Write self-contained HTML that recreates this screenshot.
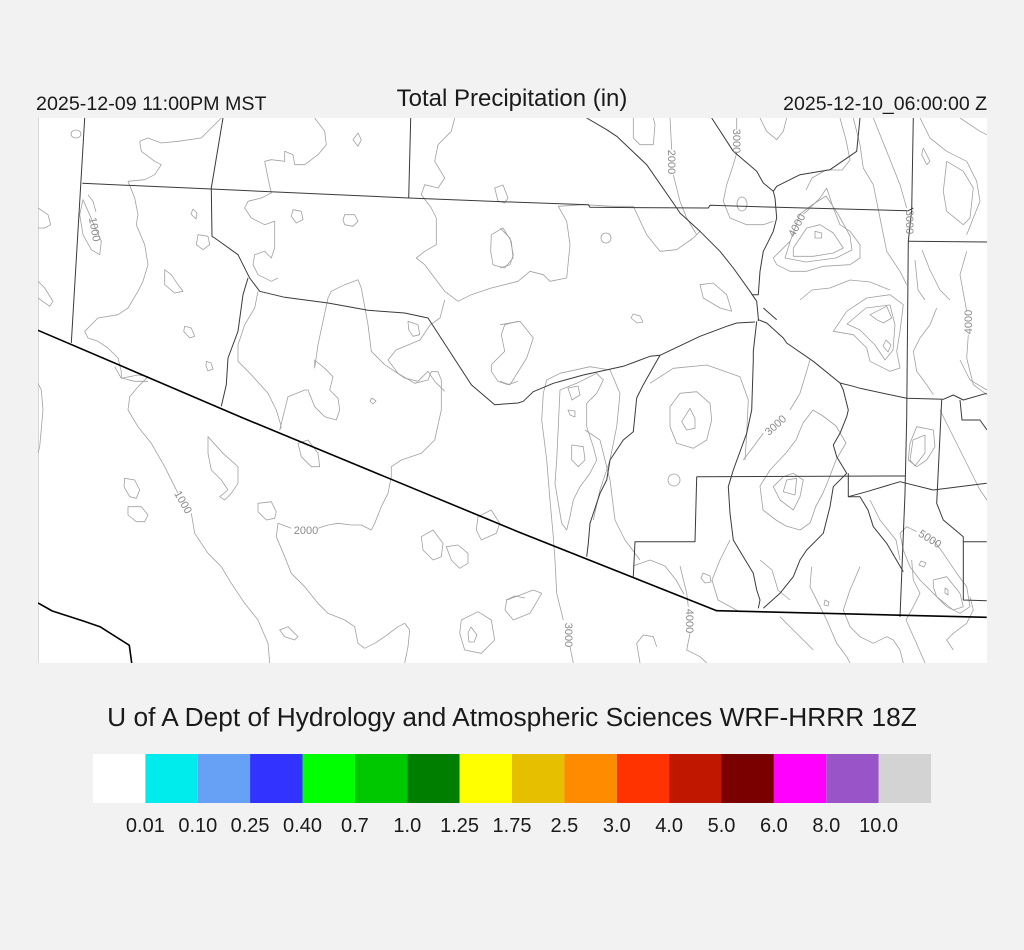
<!DOCTYPE html>
<html><head><meta charset="utf-8"><style>
html,body{margin:0;padding:0;background:#f2f2f2;}
svg{display:block;}
text{font-family:"Liberation Sans",Arial,sans-serif;}
</style></head><body>
<svg width="1024" height="950" viewBox="0 0 1024 950" xmlns="http://www.w3.org/2000/svg">
<rect x="0" y="0" width="1024" height="950" fill="#f2f2f2"/>
<defs><clipPath id="mc"><rect x="38" y="118" width="949" height="545"/></clipPath></defs>
<rect x="38" y="118" width="949" height="545" fill="#ffffff"/>
<line x1="38.5" y1="118" x2="38.5" y2="663" stroke="#d8d8d8" stroke-width="1"/>

<g clip-path="url(#mc)" fill="none" stroke="#a0a0a0" stroke-width="0.8" stroke-linejoin="round">
<ellipse cx="76" cy="134" rx="5" ry="4"/>
<path d="M139.7,141.3 L148,138 L161.3,143 L178,141.3 L201.3,138 L211.3,128 L221.3,118"/>
<path d="M139.7,141.3 L141.3,151.3 L154.7,161.3 L161.3,164.7 L154.7,174.7 L144.7,179.7 L128,181.3 L134.7,198 L138,214.7 L136.3,224.7 L144.7,244.7 L148,264.7 L143,281.3 L138,291.3 L128,308 L118,314.7 L98,318 L84.7,331.3 L88,338 L98,341.3 L108,348 L118,358 L121.3,371.3 L121.3,378 L134.7,381.3 L148,381.3"/>
<path d="M114.7,366.7 L121.3,378.3 L138,375 L148,376.7 L138,386.7 L129.7,396.7 L128,410 L138,426.7 L151.3,443.3 L164.7,466.7 L174.7,486.7 L178,493.3 M191.3,513.3 L194.7,533.3 L208,553.3 L221.3,566.7 L231.3,583.3 L244.7,603.3 L258,620 L268,643.3 L269.7,663"/>
<path d="M314.7,118 L324.7,131.3 L326.3,144.7 L318,154.7 L304.7,164.7 L294.7,164.7 L293,154.7 L284.7,151.3 L284.7,161.3 L271.3,159.7 L264.7,161.3 L268,178 L271.3,193 L261.3,198 L248,201.3 L244.7,208 L251.3,218 L264.7,224.7 L274.7,221.3 L274.7,248 L271.3,258 L264.7,251.3 L254.7,254.7 L253,264.7 L258,274.7 L271.3,281.3 L278,278"/>
<path d="M258,291.3 L254.7,308 L244.7,324.7 L238,344.7 L238,361.3 L251.3,374.7 L268,393.3 L276.3,410 L281.3,426.7 L279.7,430 L288,396.7 L304.7,390 L308,390 L314.7,406.7 L324.7,416.7 L336.3,420 L339.7,410 L338,398.3 L329.7,390 L333,376.7 L324.7,368.3 L314.7,360 L314.7,368 L318,344.7 L328,298 L331.3,291.3 L344.7,284.7 L358,279.7 L361.3,288 L368,324.7 L371.3,351.3 L384.7,364.7 L404.7,378 L418,381.3 L428,371.3 L434.7,381.3 L444.7,391.3"/>
<path d="M454.7,118 L451.3,131.3 L438,144.7 L434.7,161.3 L444.7,178 L438,188 L424.7,184.7 L421.3,194.7 L431.3,208 L436.3,218 L436.3,244.7 L424.7,251.3 L416.3,258 L424.7,264.7 L434.7,278 L444.7,291.3 L458,301.3 L471.3,294.7 L491.3,288 L518,281.3 L530,271.3 L543.3,274.7 L550,281.3 L566.7,278 L570,244.7 L566.7,221.3 L558.3,206.3 L583.3,204.7 L613.3,206.3 L633.3,206.3 L646.7,234.7 L660,251.3 L676.7,249.7 L693.3,238 L700,231.3"/>
<path d="M670,118 L671.7,149.7 M673.3,174.7 L680,201.3 L686.7,218 L696.7,234.7"/>
<path d="M736.7,118 L736.7,129.7 M736.7,153 L733.3,164.7 L726.7,184.7 L723.3,201.3 L730,218 L746.7,224.7 L763.3,224.7 L773.3,221.3"/>
<path d="M826.7,188 L820,198 L806.7,211.3 L803.3,214 M790,241.3 L780,251.3 L773.3,258 L776.7,264.7 L790,271.3 L806.7,271.3 L823.3,266.3 L850,264.7 L860,258 L860,244.7 L850,231.3 L840,224.7 L833.3,208 L826.7,188"/>
<path d="M815,231.3 L821.7,233 L821.7,238 L815,238 Z"/>
<path d="M806.7,228 L820,224.7 L833.3,233 L843.3,248 L833.3,253 L813.3,256.3 L793.3,256.3 L793.3,248 Z"/>
<path d="M800,214 L812,205 L826,196 L838,214 L850,236 L852,250 L836,258 L806,262 L785,258 L790,242 Z"/>
<path d="M853.3,118 L860,144.7 L863.3,168 L873.3,184.7 L880,218 L886.7,251.3 L900,271.3 L906.7,284.7"/>
<path d="M873.3,118 L886.7,151.3 L900,184.7 L906.7,208"/>
<path d="M840,118 L846,140 L850,160 L842,170 L826,170 L812,178 L806,190"/>
<path d="M760,118 L766.7,131.3 L776.7,139.7 L783.3,131.3 L786.7,118"/>
<path d="M833.3,331.3 L846.7,311.3 L866.7,298 L890,294.7 L903.3,304.7 L900,331.3 L896.7,351.3 L900,368 L890,371.3 L870,361.3 L866.7,348 L853.3,334.7 Z"/>
<path d="M847,324 L866,308 L890,305 L895,325 L893,350 L885,360 L875,345 L860,330 Z"/>
<path d="M870,314.7 L886.7,306.3 L891.7,318 L883.3,323 L876.7,319.7 Z"/>
<path d="M886,340 L891,345 L888,352 L883,346 Z"/>
<path d="M800,300 L812,290 L830,288 L850,280 L870,282 L890,290"/>
<path d="M920,118 L930,138 L946.7,151.3 L966.7,161.3 L976.7,181.3 L980,201.3 L973.3,218 L966.7,234.7"/>
<path d="M960,118 L980,131.3 L987,134.7"/>
<path d="M923.3,148 L930,161.3 L926.7,164.7 L921.7,154.7 Z"/>
<path d="M946.7,161.3 L963.3,171.3 L973.3,188 L970,218 L963.3,224.7 L946.7,211.3 L943.3,191.3 Z"/>
<path d="M966.7,251.3 L960,274.7 L966.7,311.3 M968.3,334.7 L966.7,358 L973.3,384.7 L987,394.7"/>
<path d="M936.7,308 L930,324.7 L920,338 L913.3,351.3 L916.7,371.3 L926.7,384.7 L933.3,394.7"/>
<path d="M922,250 L930,270 L940,290 L950,300 M915,260 L918,290 L925,300"/>
<path d="M606,238 m-5,0 a5,5 0 1,0 10,0 a5,5 0 1,0 -10,0"/>
<path d="M500,228 L510,238 L513.3,254.7 L510,264.7 L500,268"/>
<path d="M633.3,118 L633.3,138 L640,144.7 L653.3,144.7 L655,124.7 L653.3,118"/>
<path d="M700,284.7 L713.3,283 L726.7,294.7 L731.7,311.3 L720,308 L703.3,298 Z"/>
<path d="M633,314 L640,316 L643,322 L637,323 L631,318 Z"/>
<ellipse cx="742" cy="204" rx="5" ry="7"/>
<path d="M500,324.7 L520,321.3 L533.3,338 L526.7,358 L510,384.7 L500,381.3"/>
<path d="M543.3,393.3 L541.7,420 L546.7,460 L550,500 L553.3,536.7 L555,560 L556.7,593.3 L563.3,620 M570,646.7 L573.3,663"/>
<path d="M543.3,393.3 L546.7,380 L560,373.3 L590,366.7 L610,370 L620,393.3 L616.7,426.7 L610,460 L600,490 L593.3,520"/>
<path d="M560,390 L576.7,383.3 L596.7,373.3 L603.3,380 L596.7,393.3 L586.7,403.3 L586.7,426.7 L593.3,446.7 L596.7,460 L590,473.3 L580,486.7 L573.3,500 L570,516.7 L566.7,530 L561.7,523.3 L558.3,503.3 L555,483.3 L556.7,460 L558.3,426.7 Z"/>
<path d="M571.7,445 L583.3,446.7 L585,460 L578.3,466.7 L571.7,460 Z"/>
<path d="M568,410 L575,411 L575,417 L570,415 Z"/>
<path d="M568,388 L578,386 L580,395 L572,400 Z"/>
<path d="M650,383.3 L673.3,368.3 L706.7,365 L740,376.7 L748.3,400 L746.7,433.3 L745,460"/>
<path d="M670,406.7 L680,393.3 L696.7,391.7 L710,403.3 L711.7,420 L706.7,440 L693.3,448.3 L676.7,443.3 L670,426.7 Z"/>
<path d="M690,408.3 L695,418.3 L695,428.3 L686.7,430 L681.7,421.7 Z"/>
<circle cx="674" cy="480" r="6"/>
<path d="M810,360 L800,393.3 L790,410 M763.3,433.3 L753.3,446.7 L743.3,460"/>
<path d="M793.3,473.3 L803.3,480 L800,496.7 L793.3,510 L780,500 L773.3,486.7 L783.3,476.7 Z"/>
<path d="M786.7,480 L796.7,478.3 L795,495 L783.3,491.7 Z"/>
<path d="M760,486 L763,510 L776,520 L786,526 L800,530 L810,523 L816,506 L823,493 L830,476 L836,460 L846,443 L836,426 L823,416 L813,410 L803,423 L796,440 L786,453 L770,470 Z"/>
<path d="M916.7,531.7 L906.7,526.7 L900,533.3 L903.3,550 L910,566.7 L920,580 L933.3,593.3 L946.7,606.7 L960,613.3 L970,606.7 L966.7,586.7 L956.7,573.3 L943.3,553.3 L933.3,540"/>
<path d="M921,561 L926,563 L924,567 L919,565 Z"/>
<path d="M933.3,580 L946.7,576.7 L960,593.3 L963.3,606.7 L953.3,610 L936.7,596.7 L933.3,586.7 Z"/>
<path d="M945,588 L948,590 L948,595 L945,593 Z"/>
<path d="M916.7,426.7 L933.3,430 L935,446.7 L926.7,460 L916.7,466.7 L908.3,460 L910,443.3 Z"/>
<path d="M913,440 L925,435 L925,453 L915,466 L910,460 Z"/>
<path d="M680,566 L686.7,593.3 L688.3,606.7 M690,633.3 L686.7,650 L700,656.7 L706.7,663"/>
<path d="M506.7,600 L533.3,590 L541.7,593.3 L530,613.3 L513.3,620 L505,610 Z"/>
<path d="M703,573 L710,576 L711,582 L705,583 L701,578 Z"/>
<path d="M825,600 L829,602 L828,606 L824,605 Z"/>
<path d="M38,208 L48,214.7 L50.7,224.7 L44.7,228 L38,228"/>
<path d="M38,281.3 L44.7,288 L53,301.3 L49.7,306.3 L38,298"/>
<path d="M38,383.3 L41.3,390 L43,410 L39.7,446.7 L38,453.3"/>
<path d="M88,194.7 L93,201.3 L96,212 M101.3,241.3 L99.7,254.7 L91.3,249.7 L83,234.7 L79.7,214.7 L83,199.7 Z"/>
<path d="M193,209 L197,213 L196,219 L191,214 Z"/>
<path d="M198,234.7 L208,236.3 L209.7,244.7 L203,249.7 L196.3,244.7 Z"/>
<path d="M164.7,269.7 L171.3,274.7 L178,284.7 L183,291.3 L174.7,293 L164.7,284.7 Z"/>
<path d="M184.7,326.3 L191.3,328 L194.7,336.3 L189.7,338 L183.7,331.3 Z"/>
<path d="M206.3,361.3 L211,363 L213,369 L208,371 L206,366 Z"/>
<path d="M358,133 L361.3,139.7 L358,146.3 L353,139.7 Z"/>
<path d="M344.7,214.7 L354.7,214.7 L358,221.3 L353,226.3 L344.7,224.7 L343,219.7 Z"/>
<path d="M293,209.7 L301.3,211.3 L303,219.7 L296.3,223 L291.3,216.3 Z"/>
<path d="M408,321.3 L418,324.7 L419.7,334.7 L413,336.3 L408.7,329.7 Z"/>
<path d="M491.3,234.7 L503,228 L511.3,241.3 L513,258 L504.7,268 L493,264.7 L490.7,251.3 Z"/>
<path d="M494.7,188 L503,185 L508,198 L504.7,203 L498,201 Z"/>
<path d="M518,321.3 L504.7,324.7 L501.3,334.7 L504.7,351.3 L498,358 L491.3,364.7 L491.3,371.3 L498,381.3 L508,384.7 L518,381.3"/>
<path d="M208,436.7 L223,453.3 L238,466.7 L238,483.3 L231.3,493.3 L224.7,500 L219.7,496.7 L228,490 L221.3,480 L211.3,470 L208,453.3 Z"/>
<path d="M124.7,478.3 L134.7,480 L139.7,490 L136.3,498.3 L129.7,496.7 L124,486.7 Z"/>
<path d="M128,506.7 L141.3,506.7 L148,515 L144.7,521.7 L136.3,521.7 L128,515 Z"/>
<path d="M258,503.3 L271.3,501.7 L276.3,511.7 L274.7,518.3 L266.3,520 L258,511.7 Z"/>
<path d="M278,523.3 L291.3,528.3 M318,528.3 L328,525 L338,523.3 L351.3,525 L361.3,525 L371.3,530 L374.7,523.3 L381.3,506.7 L388,493.3 L391.3,476.7 L391.3,466.7 L401.3,460 L421.3,453.3 L434.7,440 L441.3,410 L441.3,380 L438,371.7 L431.3,371.7 L428,380 L414.7,383.3 L398,373.3 L388,360 L396,350 L408,345 L420,340 L430,325 L440,318 L444.7,300"/>
<path d="M278,523.3 L276.3,536.7 L284.7,556.7 L291.3,573.3 L304.7,586.7 L318,603.3 L328,613.3 L344.7,620 L354.7,626.7 L358,643.3 L364.7,648.3 L374.7,643.3 L384.7,636.7 L398,626.7 L404.7,623.3 L409.7,630 L408,646.7 L404.7,663"/>
<path d="M298,443.3 L308,440 L318,453.3 L319.7,466.7 L311.3,466.7 L301.3,456.7 Z"/>
<path d="M372,398 L376,401 L373,404 L370,401 Z"/>
<path d="M421.3,536.7 L433,530 L443,543.3 L441.3,556.7 L433,560 L423,550 Z"/>
<path d="M446.3,546.7 L458,545 L468,553.3 L468,563.3 L459.7,568.3 L451.3,560 Z"/>
<path d="M478,516.7 L491.3,510 L499.7,523.3 L496.3,533.3 L481.3,540 L476.3,530 Z"/>
<path d="M461.3,620 L478,611.7 L491.3,620 L494.7,640 L481.3,653.3 L464.7,650 L459.7,633.3 Z"/>
<path d="M468,633 L471,627 L477,635 L474,642 L469,642 Z"/>
<path d="M279.7,630 L288,626.7 L298,636.7 L294.7,640 L284.7,636.7 Z"/>
<path d="M506,600 L515,596 L525,598"/>
<path d="M640,663 L636.7,643.3 L643.3,635 L653.3,636.7 L656.7,646.7"/>
<path d="M780,616.7 L793.3,630 L806.7,643.3 L813.3,650"/>
<path d="M811.7,566.7 L810,586.7 L818.3,603.3 L826.7,620 L836.7,643.3 L846.7,656.7 L850,663"/>
<path d="M860,566.7 L850,590 L843.3,610 L850,626.7 L860,636.7 L873.3,643.3 L886.7,636.7 L893.3,640 L900,650 L903.3,663"/>
<path d="M911.7,560 L913.3,580 L920,593.3 L913.3,606.7 L906,620 L915,640 L925,663"/>
<path d="M970,596.7 L973.3,610 L966.7,623.3 L953.3,633.3 L946.7,640 L953.3,650"/>
<path d="M633,566 L650,560 L665,566 L676,580 L684,594"/>
<path d="M730,540 L720,560 L712,580 L718,600 L740,612"/>
<path d="M760,560 L772,570 L778,590 L790,600"/>
<path d="M870,500 L880,520 L896,540 L900,560"/>
<path d="M940,410 L950,430 L960,450 L970,470 L980,490 L987,500"/>
<path d="M960,360 L970,380 L987,390"/>
<path d="M585,430 L600,440 L610,480 L615,520 L625,540 L640,560"/>
</g>

<g clip-path="url(#mc)" fill="none" stroke="#3a3a3a" stroke-width="1" stroke-linejoin="round">
<path d="M84.7,118 L71.3,343"/>
<path d="M82.3,183.3 L211.3,189 L408.7,198 L518,202.3 L588.3,204.7 L590,207.3 L708.3,208 L710,205.3 L776.7,207.3 L908.3,210.7 L913.3,208"/>
<path d="M410.7,118 L408.7,198"/>
<path d="M223,118 L211.3,188 L212,236.3 L214.7,238 L238,254.7 L248,274.7 L249.7,278 L259.7,291.3 L284.7,297.3 L328,303 L368,310.3 L404.7,313 L428,318 L471.3,384.7 L494.7,404.7 L518,403 L523.3,401.3 L533.3,391.7 L553.3,383.3 L583.3,375 L623.3,366.3 L650,356.3 L660,355.3 L700,336.3 L726.7,326.3 L736.7,323 L755,322"/>
<path d="M248,278 L243,294.7 L238,331.3 L228,358 L226.3,384.7 L221.3,406.3"/>
<path d="M586.7,118 L606.7,129.7 L616.7,136.3 L646.7,164.7 L676.7,208 L680,213 L700,231.3 L720,251.3 L733.3,268 L750,291.3 L756.7,301.3 L758.3,318 L758.3,321"/>
<path d="M913.3,118 L911.7,209.7 L908.3,241.3 L906.7,418 L905,493.3 L900,617"/>
<path d="M908.3,241.3 L987,242"/>
<path d="M711.7,118 L733.3,151.3 L756.7,171.3 L763.3,183 L773.3,191.3 L775,198 L776.7,218 L773.3,231.3 L766.7,244.7 L763.3,251.3 L760,271.3 L758.3,294.7 L751.7,294.7"/>
<path d="M773.3,191.3 L776.7,186.3 L800,174.7 L830,169.7 L856.7,151.3 L860,118"/>
<path d="M763.3,308 L776.7,319.7"/>
<path d="M758.3,319.7 L766.7,323 L783.3,338 L786.7,343 L813.3,361.3 L840,383 L843.3,390 L848.3,410 L846.7,416.7 L840,433.3 L833.3,445 L836.7,456.7 L846.7,473.3 L833.3,486.7 L830,506.7 L823.3,533.3 L806.7,550 L800,560 L793.3,576.7 L780,593.3 L763.3,608.3"/>
<path d="M840,383 L853.3,386.3 L860,388.3 L906.7,398.3 L943.3,399.3 L953.3,395 L963.3,400 L986.7,393.3"/>
<path d="M756.7,321.3 L753.3,351.3 L753.3,360 L751.7,410 L746.7,433.3 L733.3,470 L728.3,486.7 L730,513.3 L733.3,540 L743.3,556.7 L753.3,573.3 L756.7,590 L760,600 L758.3,608.3"/>
<path d="M660,355.3 L643.3,384.7 L636.7,398 L633.3,431.7 L623.3,440 L610,460 L606.7,480 L600,493.3 L590,523.3 L588.3,543.3 L586.7,556.7"/>
<path d="M941.7,399.7 L936.7,503.3 L943.3,520 L963.3,536.7 L963.3,600 L986.7,600.7"/>
<path d="M963.3,541.7 L986.7,541.7"/>
<path d="M960,400 L962,420 L980,420 L987,430"/>
<path d="M696.7,476.7 L905,476"/>
<path d="M696.7,476.7 L695,541.7 L635,541.7 L633.3,576.7"/>
<path d="M848.3,473.3 L848.3,496.7 L860,496.7 L868,510 L873.3,526.7 L886.7,543.3 L903.3,571.7"/>
<path d="M848.3,496.7 L866.7,491.7 L900,481.7 L933.3,490 L986.7,483.3"/>
</g>

<g clip-path="url(#mc)" fill="none" stroke="#000" stroke-width="1.6" stroke-linejoin="round">
<path d="M38,330.3 L243,418 L518,531.7 L716.7,610.7 L986.7,617.3"/>
<path d="M38,603 L52.3,611 L83.3,621 L100,626.7 L129.3,645.3 L131.7,663"/>
</g>

<g font-size="11" fill="#8a8a8a">
<text transform="translate(91,230) rotate(80)" text-anchor="middle">1000</text>
<text transform="translate(668,162) rotate(90)" text-anchor="middle">2000</text>
<text transform="translate(733,141) rotate(90)" text-anchor="middle">3000</text>
<text transform="translate(800,227) rotate(-62)" text-anchor="middle">4000</text>
<text transform="translate(906,222) rotate(90)" text-anchor="middle">3000</text>
<text transform="translate(972,322) rotate(-90)" text-anchor="middle">4000</text>
<text transform="translate(778,428) rotate(-42)" text-anchor="middle">3000</text>
<text transform="translate(180,504) rotate(60)" text-anchor="middle">1000</text>
<text x="306" y="534" text-anchor="middle">2000</text>
<text transform="translate(928,542) rotate(32)" text-anchor="middle">5000</text>
<text transform="translate(565,635) rotate(90)" text-anchor="middle">3000</text>
<text transform="translate(686,621) rotate(90)" text-anchor="middle">4000</text>
</g>

<g fill="#1a1a1a">
<text x="36" y="110" font-size="19.7">2025-12-09 11:00PM MST</text>
<text x="512" y="106" font-size="24" text-anchor="middle">Total Precipitation (in)</text>
<text x="987" y="110" font-size="19.5" text-anchor="end">2025-12-10_06:00:00 Z</text>
<text x="512" y="726" font-size="26.3" text-anchor="middle">U of A Dept of Hydrology and Atmospheric Sciences WRF-HRRR 18Z</text>
</g>

<g>
<rect x="93" y="754" width="52.4" height="49" fill="#ffffff"/>
<rect x="145.4" y="754" width="52.4" height="49" fill="#00ebeb"/>
<rect x="197.8" y="754" width="52.4" height="49" fill="#66a1f6"/>
<rect x="250.1" y="754" width="52.4" height="49" fill="#3333ff"/>
<rect x="302.5" y="754" width="52.4" height="49" fill="#00ff00"/>
<rect x="354.9" y="754" width="52.4" height="49" fill="#00c800"/>
<rect x="407.3" y="754" width="52.4" height="49" fill="#007e00"/>
<rect x="459.6" y="754" width="52.4" height="49" fill="#ffff00"/>
<rect x="512" y="754" width="52.4" height="49" fill="#e6c000"/>
<rect x="564.4" y="754" width="52.4" height="49" fill="#ff8c00"/>
<rect x="616.8" y="754" width="52.4" height="49" fill="#ff3300"/>
<rect x="669.1" y="754" width="52.4" height="49" fill="#c01800"/>
<rect x="721.5" y="754" width="52.4" height="49" fill="#7a0000"/>
<rect x="773.9" y="754" width="52.4" height="49" fill="#ff00ff"/>
<rect x="826.3" y="754" width="52.4" height="49" fill="#9955c8"/>
<rect x="878.6" y="754" width="52.4" height="49" fill="#d3d3d3"/>
</g>
<g fill="#1a1a1a" font-size="20" text-anchor="middle">
<text x="145.4" y="832">0.01</text>
<text x="197.8" y="832">0.10</text>
<text x="250.1" y="832">0.25</text>
<text x="302.5" y="832">0.40</text>
<text x="354.9" y="832">0.7</text>
<text x="407.3" y="832">1.0</text>
<text x="459.6" y="832">1.25</text>
<text x="512" y="832">1.75</text>
<text x="564.4" y="832">2.5</text>
<text x="616.8" y="832">3.0</text>
<text x="669.1" y="832">4.0</text>
<text x="721.5" y="832">5.0</text>
<text x="773.9" y="832">6.0</text>
<text x="826.3" y="832">8.0</text>
<text x="878.6" y="832">10.0</text>
</g>
</svg>
</body></html>
